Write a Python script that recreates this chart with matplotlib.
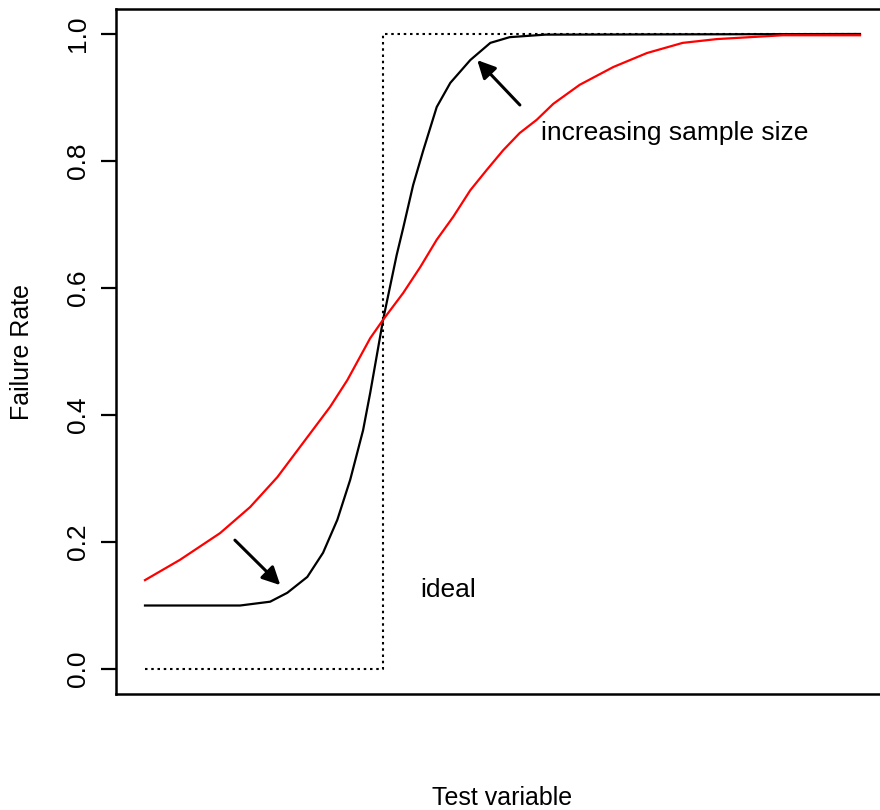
# Failure rate vs test variable (R-style base plot)

import numpy as np
from matplotlib import pyplot as plt

plt.rcParams['font.family'] = ['Liberation Sans', 'DejaVu Sans']

# Data (x in arbitrary test-variable units 0..10)
ideal_x = [0, 3.33, 3.33, 10]
ideal_y = [0, 0, 1, 1]

large_x = [0, 1.33, 1.75, 1.99, 2.27, 2.49, 2.69, 2.87, 3.05, 3.15, 3.33, 3.52,
           3.61, 3.75, 3.89, 4.08, 4.27, 4.55, 4.83, 5.10, 5.60, 10]
large_y = [0.100, 0.100, 0.106, 0.120, 0.145, 0.183, 0.235, 0.298, 0.376, 0.435,
           0.550, 0.652, 0.694, 0.762, 0.816, 0.885, 0.923, 0.959, 0.986, 0.995,
           0.999, 1.000]

small_x = [0, 0.49, 1.05, 1.47, 1.85, 2.21, 2.59, 2.83, 3.15, 3.33, 3.61, 3.85,
           4.08, 4.31, 4.55, 4.78, 5.01, 5.24, 5.48, 5.71, 6.08, 6.55, 7.02, 7.52,
           8.00, 8.46, 8.92, 10]
small_y = [0.140, 0.172, 0.214, 0.255, 0.302, 0.356, 0.413, 0.455, 0.521, 0.550,
           0.592, 0.633, 0.676, 0.712, 0.754, 0.786, 0.817, 0.844, 0.865, 0.890,
           0.920, 0.948, 0.970, 0.986, 0.992, 0.995, 0.998, 0.998]

yticks = [0.0, 0.2, 0.4, 0.6, 0.8, 1.0]

fig = plt.figure(figsize=(8.8, 8.1), dpi=100)
# right edge of the box falls outside the picture, as in the original
ax = fig.add_axes([116.4 / 880, 0.1427, 772.2 / 880, 0.8467])

ax.plot(ideal_x, ideal_y, color='black', lw=1.5, linestyle=(0, (1.2, 1.8)))
ax.plot(large_x, large_y, color='black', lw=1.6)
ax.plot(small_x, small_y, color='red', lw=1.6)

ax.set_xlim(-0.4, 10.4)
ax.set_ylim(-0.04, 1.04)
ax.set_xticks([])
ax.set_yticks(yticks)
ax.set_yticklabels(['%.1f' % v for v in yticks], rotation=90, va='center', fontsize=19)
ax.tick_params(axis='y', length=11, width=1.6, pad=8)
for side in ['left', 'bottom', 'top', 'right']:
    ax.spines[side].set_linewidth(1.8)

# arrows and notes
ax.annotate('', xy=(1.92, 0.129), xytext=(1.23, 0.206),
            arrowprops=dict(arrowstyle='-|>', color='black', lw=2.2, mutation_scale=27))
ax.annotate('', xy=(4.62, 0.962), xytext=(5.27, 0.885),
            arrowprops=dict(arrowstyle='-|>', color='black', lw=2.2, mutation_scale=27))
ax.text(5.54, 0.844, 'increasing sample size', fontsize=19, va='center', ha='left')
ax.text(3.85, 0.124, 'ideal', fontsize=19, va='center', ha='left')

fig.text(502 / 880, 1 - 798 / 810, 'Test variable', fontsize=18, ha='center', va='center')
fig.text(22 / 880, 1 - 352 / 810, 'Failure Rate', fontsize=18, ha='center', va='center',
         rotation=90)

fig.savefig('out.png', dpi=100)
